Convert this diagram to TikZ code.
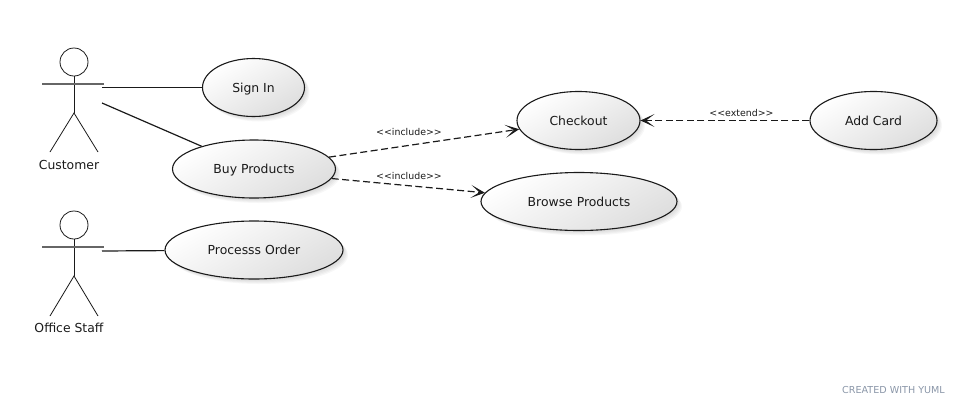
\documentclass[tikz,border=0pt]{standalone}
\usepackage{fontspec}
\setmainfont{DejaVu Sans}
\usetikzlibrary{shapes.geometric,arrows.meta,shadings}
\definecolor{inkc}{HTML}{1A1A1A}
\definecolor{markc}{HTML}{8A96A8}
\tikzset{
  x=1pt,y=-1pt,
  softshadow/.style={preaction={fill=black,fill opacity=.03,transform canvas={shift={(#1pt,-#1pt)}}}},
  usecase/.style={ellipse,draw=inkc,line width=1.1pt,inner sep=0pt,minimum height=58pt,
    shading=axis,top color=white,bottom color=black!13,shading angle=30,
    softshadow=1,softshadow=2,softshadow=3,softshadow=4,softshadow=5,
    font=\fontsize{12.4}{14}\selectfont,text=inkc,text height=9.3pt,text depth=0pt},
  actorline/.style={draw=inkc,line width=.8pt},
  actorarm/.style={draw=black!60,line width=1.2pt},
  actorname/.style={font=\fontsize{12.4}{14}\selectfont,text=inkc,text height=9.3pt,text depth=0pt},
  assoc/.style={draw=inkc,line width=1.2pt},
  dep/.style={draw=inkc,line width=1.2pt,dash pattern=on 7pt off 3.5pt,
    -{Stealth[length=14pt,width=13pt,inset=8.5pt,fill=inkc,line width=1pt]}},
  steretype/.style={font=\fontsize{9.4}{11}\selectfont,text=inkc,inner sep=0pt},
}
\begin{document}
\begin{tikzpicture}
\useasboundingbox (0,0) rectangle (963,405);
% customer actor
\node[circle,draw=inkc,line width=.8pt,minimum size=28pt,inner sep=0pt] (custhead) at (74,62) {};
\coordinate (custhip) at (74,113);
\coordinate (custl) at (42,84);
\coordinate (custr) at (104,84);
\coordinate (custfl) at (50,152);
\coordinate (custfr) at (98,152);
\draw[actorline] (custhead) -- (custhip);
\draw[actorarm] (custl) -- (custr);
\draw[actorline] (custfl) -- (custhip) -- (custfr);
\node[actorname] (custname) at (69,165) {Customer};
% staff actor
\node[circle,draw=inkc,line width=.8pt,minimum size=28pt,inner sep=0pt] (staffhead) at (74,225) {};
\coordinate (staffhip) at (74,276);
\coordinate (staffl) at (42,247);
\coordinate (staffr) at (104,247);
\coordinate (stafffl) at (50,316);
\coordinate (stafffr) at (98,316);
\draw[actorline] (staffhead) -- (staffhip);
\draw[actorarm] (staffl) -- (staffr);
\draw[actorline] (stafffl) -- (staffhip) -- (stafffr);
\node[actorname] (staffname) at (69,328) {Office Staff};
% use cases
\node[usecase,minimum width=102pt] (signin) at (253.5,87.5) {Sign In};
\node[usecase,minimum width=163pt] (buy) at (254,169) {Buy Products};
\node[usecase,minimum width=123pt] (checkout) at (578.5,120.5) {Checkout};
\node[usecase,minimum width=127pt] (addcard) at (873.5,120.5) {Add Card};
\node[usecase,minimum width=196pt] (browse) at (579,201.5) {Browse Products};
\node[usecase,minimum width=178pt] (process) at (254,250) {Processs Order};
% connectors
\coordinate (custa) at (102,87.5);
\coordinate (custb) at (102,103);
\coordinate (staffa) at (102,251);
\draw[assoc] (custa) -- (signin);
\draw[assoc] (custb) -- (buy);
\draw[assoc] (staffa) -- (process);
\draw[dep] (buy.9) -- (checkout);
\draw[dep] (buy.-7.5) -- (browse);
\draw[dep] (addcard) -- (checkout);
% labels
\node[steretype] (inc1) at (409,131.5) {<{}<include>{}>};
\node[steretype] (inc2) at (409,175.5) {<{}<include>{}>};
\node[steretype] (ext) at (741.5,112.5) {<{}<extend>{}>};
\node[font=\fontsize{9.6}{11}\selectfont,text=markc,anchor=east,inner sep=0pt] (credit) at (945,390) {CREATED WITH YUML};
\end{tikzpicture}
\end{document}
